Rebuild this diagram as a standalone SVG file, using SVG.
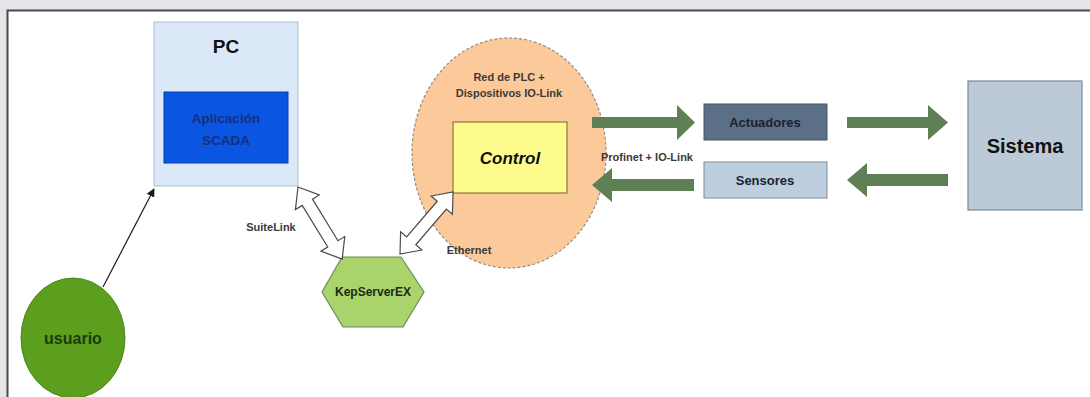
<svg xmlns="http://www.w3.org/2000/svg" width="1090" height="397" viewBox="0 0 1090 397">
  <defs>
    <style>
      .lbl { font-family: "Liberation Sans", Arial, sans-serif; font-weight: bold; text-anchor: middle; }
      .small { font-size: 11px; fill: #3a3a3a; }
      .dbl { fill: #ffffff; stroke: #4a4a4a; stroke-width: 1.2; }
      .flow { fill: #5f7f55; }
    </style>
    <marker id="tip" viewBox="0 0 10 10" refX="9" refY="5" markerWidth="7" markerHeight="7" orient="auto">
      <path d="M0,0 L10,5 L0,10 z" fill="#1a1a1a"/>
    </marker>
    <!-- double-headed block arrow, drawn along +x, length 85 -->
    <polygon id="dblArrow" points="0,0 18,-14 18,-6 67,-6 67,-14 85,0 67,14 67,6 18,6 18,14"/>
  </defs>

  <!-- frame -->
  <rect x="0" y="0" width="1090" height="397" fill="#e3e5e9"/>
  <rect x="8" y="11" width="1082" height="386" fill="#ffffff"/>
  <path d="M7.5,397 V10.5 H1090" fill="none" stroke="#4a4a4a" stroke-width="2"/>

  <!-- PC -->
  <g id="pc">
    <rect x="154" y="22" width="144" height="164" fill="#dae8f8" stroke="#aebfd2" stroke-width="1"/>
    <text class="lbl" x="226" y="53" font-size="19" fill="#111">PC</text>
  </g>
  <g id="scada">
    <rect x="164" y="92" width="124" height="71" fill="#0a55e2" stroke="#0a3fa8" stroke-width="1"/>
    <text class="lbl" x="226" y="123" font-size="13.5" fill="#16307a">Aplicación</text>
    <text class="lbl" x="226" y="145" font-size="13.5" fill="#16307a">SCADA</text>
  </g>

  <!-- usuario -->
  <g id="usuario">
    <ellipse cx="73" cy="338" rx="52" ry="60" fill="#5c9e1e" stroke="#4d8a18" stroke-width="1"/>
    <text class="lbl" x="73" y="344" font-size="16" fill="#1c3a0c">usuario</text>
  </g>

  <!-- PLC network -->
  <g id="plc-network">
    <ellipse cx="509" cy="153" rx="97" ry="115" fill="#fbc99a" stroke="#9a8a80" stroke-width="1.2" stroke-dasharray="3,2"/>
    <text class="lbl small" x="509" y="81">Red de PLC +</text>
    <text class="lbl small" x="509" y="97">Dispositivos IO-Link</text>
  </g>
  <g id="control">
    <rect x="453" y="122" width="114" height="71" fill="#fdfb8c" stroke="#8a7a36" stroke-width="1.2"/>
    <text class="lbl" x="510" y="164" font-size="17" font-style="italic" fill="#111">Control</text>
  </g>

  <!-- KepServerEX -->
  <g id="kepserver">
    <polygon points="342,257 401,257 424,292 403,327 343,327 322,292" fill="#a9d46c" stroke="#6c8a54" stroke-width="1.2"/>
    <text class="lbl" x="373" y="296" font-size="12" fill="#1e2a14">KepServerEX</text>
  </g>

  <!-- Actuadores / Sensores / Sistema -->
  <g id="actuadores">
    <rect x="704" y="104" width="123" height="36" fill="#5b6f87" stroke="#45566a" stroke-width="1"/>
    <text class="lbl" x="765" y="127" font-size="13" fill="#1a2230">Actuadores</text>
  </g>
  <g id="sensores">
    <rect x="704" y="162" width="123" height="36" fill="#bdcede" stroke="#7c8c9a" stroke-width="1"/>
    <text class="lbl" x="765" y="185" font-size="13" fill="#1a2230">Sensores</text>
  </g>
  <g id="sistema">
    <rect x="968" y="81" width="114" height="129" fill="#bccad8" stroke="#7a8a96" stroke-width="1.2"/>
    <text class="lbl" x="1025" y="153" font-size="20" fill="#111">Sistema</text>
  </g>

  <!-- connectors -->
  <g id="connectors">
    <line x1="103" y1="287" x2="154" y2="189" stroke="#1a1a1a" stroke-width="1.2" marker-end="url(#tip)"/>
    <use href="#dblArrow" class="dbl" transform="translate(298,187) rotate(58.5) scale(0.995,1)"/>
    <use href="#dblArrow" class="dbl" transform="translate(453,192) rotate(130.5) scale(0.96,1)"/>
    <polygon class="flow" points="592,117 677,117 677,105 695,122.5 677,140 677,128 592,128"/>
    <polygon class="flow" points="694,179 612,179 612,168 592,185 612,202 612,191 694,191"/>
    <polygon class="flow" points="847,117 928,117 928,105 948,122.5 928,140 928,128 847,128"/>
    <polygon class="flow" points="948,174 867,174 867,163 847,180 867,197 867,186 948,186"/>
  </g>

  <!-- connector labels -->
  <g id="labels">
    <text class="lbl small" x="271" y="231">SuiteLink</text>
    <text class="lbl small" x="469" y="254">Ethernet</text>
    <text class="lbl small" x="647" y="161">Profinet + IO-Link</text>
  </g>
</svg>
